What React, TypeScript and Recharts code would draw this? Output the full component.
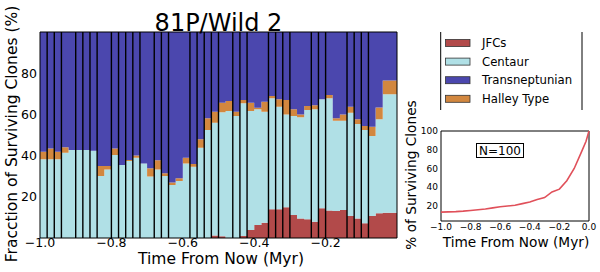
import {
  ComposedChart, Area, XAxis, YAxis, ReferenceLine, ReferenceArea, LineChart, Line,
} from 'recharts';

// Stacked fractions of surviving clones of 81P/Wild 2, plus the survival curve inset.

const FONT = '"DejaVu Sans", sans-serif';

const RED = '#b24a4a';
const CYAN = '#b0e0e6';
const BLUE = '#4b47ae';
const ORANGE = '#d2873f';
const PINK = '#e0505a';

// Start of each 0.02 Myr time bin
const BIN_START = [
  -1.0, -0.98, -0.96, -0.94, -0.92, -0.9, -0.88, -0.86, -0.84, -0.82,
  -0.8, -0.78, -0.76, -0.74, -0.72, -0.7, -0.68, -0.66, -0.64, -0.62,
  -0.6, -0.58, -0.56, -0.54, -0.52, -0.5, -0.48, -0.46, -0.44, -0.42,
  -0.4, -0.38, -0.36, -0.34, -0.32, -0.3, -0.28, -0.26, -0.24, -0.22,
  -0.2, -0.18, -0.16, -0.14, -0.12, -0.1, -0.08, -0.06, -0.04, -0.02,
];

const JFC = [
  0, 0, 0, 0, 0, 0, 0, 0, 0, 0,
  0, 0, 0, 0, 0, 0, 0, 0, 0, 0,
  0, 0, 0, 0, 1.2, 0.8, 0, 0, 1.0, 3.9,
  6.3, 7.4, 13.9, 13.9, 14.9, 11.2, 9.5, 9.1, 7.9, 14.4,
  13.3, 13.1, 13.6, 10.7, 9.5, 7.1, 10.7, 12.0, 12.3, 12.3,
];

const CENTAUR = [
  38.2, 38.2, 38.2, 41.4, 42.7, 42.7, 42.7, 42.4, 30.1, 33.3,
  40.3, 35.4, 37.4, 39.0, 36.2, 29.8, 33.3, 30.1, 25.7, 27.7,
  36.2, 34.6, 43.8, 52.4, 54.8, 60.2, 61.7, 59.2, 64.4, 57.8,
  56.2, 53.9, 53.9, 49.8, 45.1, 48.0, 49.1, 53.0, 54.6, 52.9,
  54.5, 43.8, 43.3, 50.1, 45.8, 45.3, 38.8, 45.6, 57.5, 57.5,
];

const HALLEY = [
  3.7, 5.3, 3.7, 2.6, 0, 0, 0, 0, 4.9, 1.7,
  3.2, 0, 0.5, 1.1, 0, 4.0, 4.4, 1.3, 1.2, 1.3,
  2.8, 1.3, 4.1, 5.7, 5.3, 4.7, 4.8, 2.1, 1.6, 4.0,
  0.7, 4.9, 1.1, 3.6, 7.0, 3.3, 1.4, 2.0, 1.9, 0,
  1.6, 1.2, 3.1, 2.9, 2.3, 2.0, 4.5, 5.8, 6.6, 6.6,
];

const TNO = [
  58.1, 56.5, 58.1, 56.0, 57.3, 57.3, 57.3, 57.6, 65.0, 65.0,
  56.5, 64.6, 62.1, 59.9, 63.8, 66.2, 62.3, 68.6, 73.1, 71.0,
  61.0, 64.1, 52.1, 41.9, 38.7, 34.3, 33.5, 38.7, 33.0, 34.3,
  36.8, 33.8, 31.1, 32.7, 33.0, 37.5, 40.0, 35.9, 35.6, 32.7,
  30.6, 41.9, 40.0, 36.3, 42.4, 45.6, 46.0, 36.6, 23.6, 23.6,
];

// Bin edges drawn with a black outline
const OUTLINED_EDGES = [
  -0.98, -0.96, -0.94, -0.9, -0.88, -0.86, -0.84, -0.8, -0.78, -0.76,
  -0.74, -0.72, -0.68, -0.66, -0.64, -0.58, -0.56, -0.54, -0.52, -0.5,
  -0.46, -0.44, -0.42, -0.36, -0.34, -0.32, -0.3, -0.24, -0.22, -0.2,
  -0.14, -0.12, -0.1, -0.08,
];

const X_TICKS = [-1.0, -0.8, -0.6, -0.4, -0.2];
const Y_TICKS = [20, 40, 60, 80];

// Inset: % of surviving clones vs time
const INSET_T = [
  -1.0, -0.95, -0.9, -0.85, -0.8, -0.75, -0.7, -0.65, -0.6, -0.55, -0.5,
  -0.45, -0.4, -0.35, -0.3, -0.25, -0.2, -0.15, -0.1, -0.05, -0.02, 0,
];
const INSET_PCT = [
  13.5, 13.7, 14.0, 14.5, 15.2, 16.0, 16.8, 18.0, 19.2, 20.0, 20.8,
  22.5, 24.3, 27.0, 29.0, 35.0, 38.0, 47.0, 60.0, 78.0, 89.0, 100,
];
const INSET_X_TICKS = [-1.0, -0.8, -0.6, -0.4, -0.2, 0.0];
const INSET_Y_TICKS = [20, 40, 60, 80, 100];

const LEGEND = [
  { name: 'JFCs', color: RED },
  { name: 'Centaur', color: CYAN },
  { name: 'Transneptunian', color: BLUE },
  { name: 'Halley Type', color: ORANGE },
];

const fmt = (v: number) => (v < 0 ? `\u2212${Math.abs(v).toFixed(1)}` : v.toFixed(1));

// last bin is repeated at t=0 so the step closes on the right edge
const rows = [
  ...BIN_START.map((t, i) => ({ t, jfc: JFC[i], centaur: CENTAUR[i], halley: HALLEY[i], tno: TNO[i] })),
  { t: 0, jfc: JFC[49], centaur: CENTAUR[49], halley: HALLEY[49], tno: TNO[49] },
];
const insetRows = INSET_T.map((t, i) => ({ t, pct: INSET_PCT[i] }));

const tickStyle = { fill: '#000', fontSize: 12.5, fontFamily: FONT };
const smallTick = { fill: '#000', fontSize: 9, fontFamily: FONT };

export default function App() {
  return (
    <div style={{ position: 'absolute', left: 0, top: 0, width: 600, height: 272, background: '#fff', fontFamily: FONT }}>
      <div style={{ position: 'absolute', left: 0, top: 0 }}>
        <ComposedChart width={410} height={272} data={rows} margin={{ top: 32, right: 13, bottom: 0, left: 0 }}>
          <XAxis
            dataKey="t" type="number" domain={[-1, 0]} ticks={X_TICKS} tickFormatter={fmt}
            height={34} tickSize={0} tickMargin={0} axisLine={false} interval={0} tick={tickStyle}
          />
          <YAxis
            type="number" domain={[0, 100]} ticks={Y_TICKS} width={40}
            tickSize={0} tickMargin={3} axisLine={false} interval={0} tick={tickStyle}
          />
          <Area dataKey="jfc" stackId="s" type="stepAfter" fill={RED} fillOpacity={1} stroke="none" dot={false} activeDot={false} isAnimationActive={false} />
          <Area dataKey="centaur" stackId="s" type="stepAfter" fill={CYAN} fillOpacity={1} stroke="none" dot={false} activeDot={false} isAnimationActive={false} />
          <Area dataKey="halley" stackId="s" type="stepAfter" fill={ORANGE} fillOpacity={1} stroke="none" dot={false} activeDot={false} isAnimationActive={false} />
          <Area dataKey="tno" stackId="s" type="stepAfter" fill={BLUE} fillOpacity={1} stroke="none" dot={false} activeDot={false} isAnimationActive={false} />
          {OUTLINED_EDGES.map((x) => (
            <ReferenceLine key={x} x={x} stroke="#000" strokeWidth={1.4} />
          ))}
          <ReferenceArea x1={-1} x2={0} y1={0} y2={100} fill="none" stroke="#000" strokeWidth={1} />
        </ComposedChart>
      </div>

      <div style={{ position: 'absolute', left: 400, top: 110 }}>
        <LineChart width={200} height={140} data={insetRows} margin={{ top: 21, right: 11, bottom: 0, left: 0 }}>
          <XAxis
            dataKey="t" type="number" domain={[-1, 0]} ticks={INSET_X_TICKS} tickFormatter={fmt}
            height={29} tickSize={0} tickMargin={3} axisLine={false} interval={0} tick={smallTick}
          />
          <YAxis
            type="number" domain={[4, 100]} ticks={INSET_Y_TICKS} width={41}
            tickSize={0} tickMargin={3} axisLine={false} interval={0} tick={smallTick}
          />
          <Line dataKey="pct" type="linear" stroke={PINK} strokeWidth={1.6} dot={false} activeDot={false} isAnimationActive={false} />
          <ReferenceArea x1={-1} x2={0} y1={4} y2={100} fill="none" stroke="#000" strokeWidth={1} />
        </LineChart>
      </div>

      <svg width={600} height={272} style={{ position: 'absolute', left: 0, top: 0, pointerEvents: 'none' }} fontFamily={FONT}>
        <text x={218.5} y={30.7} textAnchor="middle" fontSize={24}>81P/Wild 2</text>
        <text x={221} y={264} textAnchor="middle" fontSize={15.5}>Time From Now (Myr)</text>
        <text transform="translate(16.7,134) rotate(-90)" textAnchor="middle" fontSize={15.5}>
          Fracction of Surviving Clones (%)
        </text>

        <line x1={440.7} y1={32} x2={440.7} y2={110} stroke="#000" strokeWidth={1} />
        <line x1={582} y1={32} x2={582} y2={110} stroke="#000" strokeWidth={1} />
        {LEGEND.map((l, i) => (
          <g key={l.name}>
            <rect x={445.5} y={39.5 + i * 18.6} width={24.5} height={7} fill={l.color} stroke="#333" strokeWidth={0.8} />
            <text x={482} y={47 + i * 18.6} fontSize={11.7}>{l.name}</text>
          </g>
        ))}

        <rect x={476.5} y={143.5} width={47} height={14} fill="#fff" stroke="#000" strokeWidth={1} />
        <text x={500} y={154.7} textAnchor="middle" fontSize={12}>N=100</text>
        <text x={516} y={247.3} textAnchor="middle" fontSize={13.7}>Time From Now (Myr)</text>
        <text transform="translate(416,175) rotate(-90)" textAnchor="middle" fontSize={13.7}>
          % of Surviving Clones
        </text>
      </svg>
    </div>
  );
}
